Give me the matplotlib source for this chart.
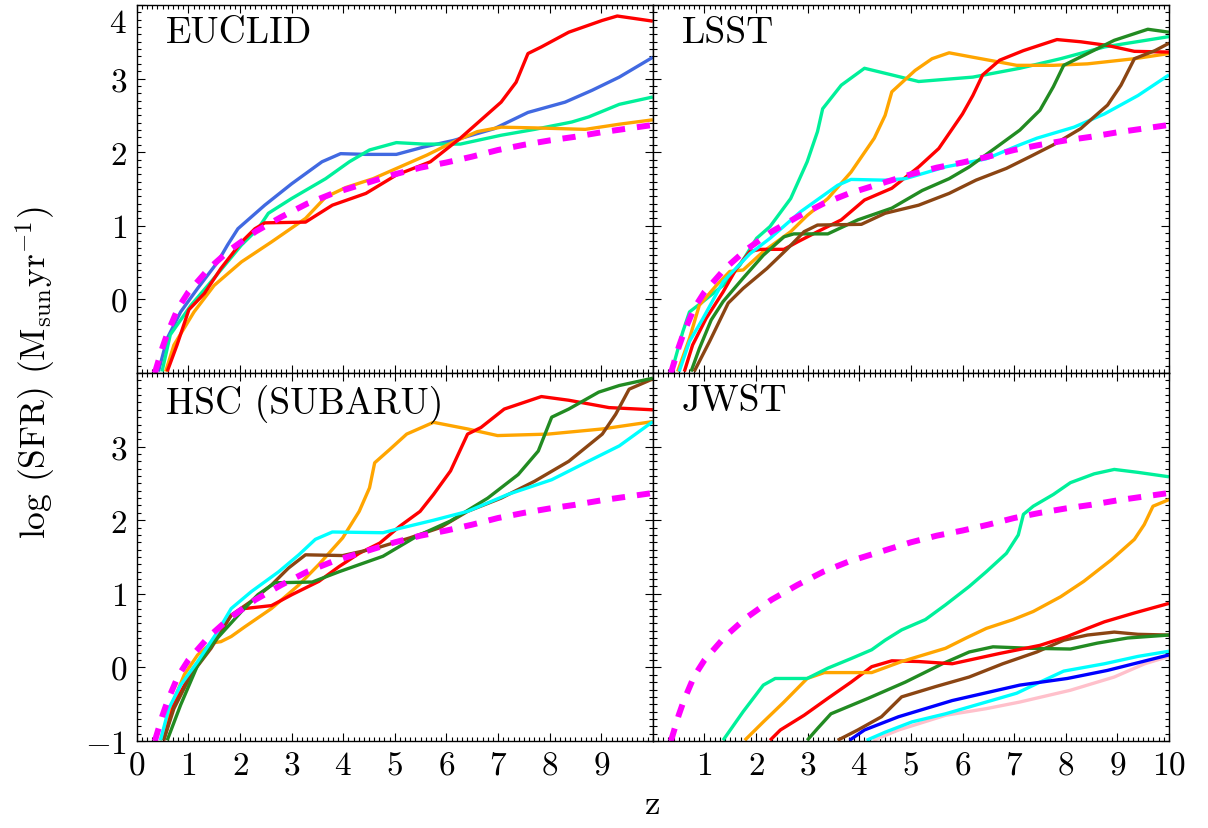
import matplotlib.pyplot as plt
import matplotlib.transforms as mtransforms
import numpy as np
from matplotlib.ticker import MultipleLocator

plt.rcParams['font.family'] = 'cmr10'
plt.rcParams['mathtext.fontset'] = 'cm'
plt.rcParams['axes.formatter.use_mathtext'] = True

# colours used by the surveys
C_ROYAL = '#4169E1'
C_SPRING = '#00F09A'
C_RED = '#FF0000'
C_ORANGE = '#FFA500'
C_FOREST = '#228B22'
C_BROWN = '#8B4513'
C_CYAN = '#00FFFF'
C_BLUE = '#0000FF'
C_PINK = '#FFC0CB'
C_MAG = '#FF00FF'

# model SFR (magenta dashed, same in every panel)
sfr_z = [0.35, 0.5, 0.6, 0.8, 1.0, 1.4, 1.8, 2.3, 2.8, 3.3, 3.8, 4.4, 5.0,
         5.5, 6.0, 6.5, 7.0, 7.5, 8.0, 8.5, 9.0, 9.5, 10.0]
sfr_val = [-1.0, -0.65, -0.45, -0.12, 0.1, 0.42, 0.67, 0.92, 1.12, 1.30, 1.44,
           1.57, 1.70, 1.79, 1.86, 1.94, 2.03, 2.10, 2.16, 2.21, 2.27, 2.32, 2.37]

# ---- EUCLID ----
eu_royal_z = [0.42, 0.59, 0.85, 1.18, 1.57, 1.76, 1.96, 2.48, 3.0, 3.59, 3.95, 4.44,
              5.03, 5.56, 6.14, 6.93, 7.58, 8.30, 8.82, 9.35, 10.0]
eu_royal = [-0.98, -0.53, -0.17, 0.15, 0.51, 0.74, 0.96, 1.28, 1.57, 1.87, 1.98, 1.97,
            1.97, 2.07, 2.16, 2.32, 2.54, 2.68, 2.84, 3.02, 3.29]
eu_spring_z = [0.49, 0.65, 1.05, 1.5, 2.03, 2.35, 2.55, 3.0, 3.66, 4.12, 4.51, 5.03,
               5.56, 6.27, 7.06, 7.71, 8.43, 8.76, 9.35, 10.0]
eu_spring = [-0.98, -0.48, -0.08, 0.29, 0.74, 0.96, 1.17, 1.37, 1.64, 1.87, 2.03, 2.13,
             2.11, 2.11, 2.23, 2.31, 2.41, 2.48, 2.65, 2.75]
eu_orange_z = [0.56, 0.72, 1.11, 1.5, 2.03, 2.61, 3.27, 3.66, 4.05, 4.58, 5.10, 5.62,
               6.14, 6.60, 7.06, 7.71, 8.69, 9.35, 10.0]
eu_orange = [-0.98, -0.62, -0.17, 0.19, 0.51, 0.78, 1.10, 1.39, 1.52, 1.64, 1.80, 1.96,
             2.14, 2.28, 2.34, 2.33, 2.31, 2.38, 2.44]
eu_red_z = [0.59, 0.78, 1.01, 1.31, 1.63, 2.03, 2.29, 2.48, 3.27, 3.79, 4.44, 5.03,
            5.69, 6.27, 7.06, 7.35, 7.58, 7.84, 8.37, 9.02, 9.31, 10.0]
eu_red = [-0.98, -0.62, -0.14, 0.08, 0.42, 0.78, 0.96, 1.04, 1.05, 1.28, 1.44, 1.69,
          1.87, 2.19, 2.68, 2.95, 3.34, 3.43, 3.63, 3.79, 3.85, 3.78]

# ---- LSST ----
ls_spring_z = [0.38, 0.58, 0.71, 0.97, 1.36, 1.69, 2.01, 2.27, 2.67, 2.99, 3.19, 3.29,
               3.65, 4.10, 4.63, 5.15, 6.20, 7.11, 7.90, 8.75, 10.0]
ls_spring = [-0.94, -0.44, -0.17, -0.03, 0.19, 0.47, 0.83, 0.99, 1.37, 1.87, 2.28, 2.59,
             2.91, 3.14, 3.05, 2.96, 3.02, 3.14, 3.27, 3.43, 3.57]
ls_orange_z = [0.48, 0.71, 0.90, 1.23, 1.49, 1.75, 2.14, 2.67, 2.99, 3.39, 3.84, 4.29,
               4.50, 4.63, 5.08, 5.41, 5.74, 6.20, 6.59, 7.05, 7.76, 8.42, 9.33, 10.0]
ls_orange = [-0.98, -0.53, -0.08, 0.19, 0.38, 0.40, 0.65, 0.92, 1.14, 1.37, 1.73, 2.19,
             2.50, 2.82, 3.11, 3.27, 3.35, 3.29, 3.24, 3.18, 3.18, 3.20, 3.27, 3.34]
ls_red_z = [0.61, 0.77, 1.03, 1.36, 1.62, 1.88, 2.08, 2.54, 2.80, 3.19, 3.65, 4.10,
            4.63, 5.15, 5.54, 6.0, 6.20, 6.39, 6.72, 7.18, 7.83, 8.29, 8.81, 9.33, 10.0]
ls_red = [-0.98, -0.62, -0.26, 0.10, 0.42, 0.65, 0.68, 0.68, 0.78, 0.92, 1.08, 1.35,
          1.51, 1.80, 2.05, 2.52, 2.77, 3.05, 3.25, 3.38, 3.53, 3.50, 3.45, 3.37, 3.36]
ls_cyan_z = [0.51, 0.71, 0.97, 1.36, 1.88, 2.27, 2.86, 3.32, 3.58, 3.84, 4.50, 4.89,
             5.67, 6.46, 7.11, 7.44, 8.16, 8.75, 9.40, 10.0]
ls_cyan = [-0.98, -0.57, -0.26, 0.24, 0.62, 0.83, 1.19, 1.42, 1.55, 1.63, 1.62, 1.64,
           1.80, 1.91, 2.10, 2.19, 2.34, 2.52, 2.77, 3.05]
ls_forest_z = [0.74, 0.90, 1.13, 1.36, 1.75, 2.14, 2.54, 2.73, 3.39, 3.97, 4.63, 5.22,
               5.74, 6.13, 6.72, 7.11, 7.50, 7.76, 7.96, 8.42, 8.94, 9.59, 10.0]
ls_forest = [-0.98, -0.67, -0.28, -0.03, 0.29, 0.60, 0.85, 0.89, 0.89, 1.08, 1.24, 1.48,
             1.64, 1.80, 2.10, 2.30, 2.57, 2.89, 3.18, 3.34, 3.52, 3.67, 3.63]
ls_brown_z = [0.80, 1.10, 1.46, 1.75, 2.21, 2.61, 2.93, 3.19, 4.04, 4.50, 5.15, 5.74,
              6.26, 6.85, 7.31, 7.76, 8.29, 8.81, 9.07, 9.33, 9.73, 10.0]
ls_brown = [-0.98, -0.57, -0.05, 0.15, 0.42, 0.69, 0.92, 1.01, 1.02, 1.17, 1.28, 1.44,
            1.62, 1.78, 1.94, 2.10, 2.32, 2.64, 2.91, 3.27, 3.38, 3.48]

# ---- HSC (SUBARU) ----
hs_orange_z = [0.46, 0.65, 0.92, 1.18, 1.44, 1.63, 1.83, 2.09, 2.61, 3.14, 3.53, 3.99,
               4.31, 4.51, 4.61, 4.90, 5.23, 5.75, 6.41, 6.99, 7.97, 9.02, 10.0]
hs_orange = [-0.99, -0.56, -0.10, 0.17, 0.33, 0.35, 0.42, 0.55, 0.80, 1.12, 1.40, 1.76,
             2.12, 2.44, 2.78, 2.96, 3.17, 3.33, 3.24, 3.15, 3.17, 3.24, 3.34]
hs_cyan_z = [0.46, 0.62, 0.85, 1.18, 1.57, 1.83, 2.22, 2.75, 3.14, 3.46, 3.79, 4.77,
             5.10, 5.75, 6.41, 7.19, 8.04, 8.69, 9.35, 10.0]
hs_cyan = [-0.99, -0.56, -0.24, 0.08, 0.49, 0.80, 1.03, 1.30, 1.53, 1.74, 1.84, 1.83,
           1.89, 2.0, 2.12, 2.35, 2.55, 2.78, 3.01, 3.34]
hs_red_z = [0.52, 0.72, 0.98, 1.37, 1.83, 2.09, 2.61, 3.01, 3.53, 3.92, 4.31, 4.71,
            5.10, 5.49, 5.75, 6.08, 6.41, 6.67, 7.12, 7.84, 8.37, 9.15, 10.0]
hs_red = [-0.99, -0.51, -0.17, 0.26, 0.71, 0.80, 0.84, 0.99, 1.17, 1.37, 1.55, 1.69,
          1.92, 2.12, 2.35, 2.67, 3.17, 3.26, 3.51, 3.68, 3.63, 3.53, 3.50]
hs_brown_z = [0.52, 0.72, 1.05, 1.44, 1.83, 2.22, 2.61, 2.94, 3.27, 3.99, 4.64, 5.29,
              5.88, 6.41, 7.06, 7.71, 8.37, 9.02, 9.28, 9.54, 10.0]
hs_brown = [-0.99, -0.56, -0.10, 0.26, 0.71, 0.90, 1.12, 1.35, 1.53, 1.52, 1.62, 1.76,
            1.90, 2.12, 2.30, 2.53, 2.80, 3.17, 3.44, 3.78, 3.92]
hs_forest_z = [0.59, 0.85, 1.18, 1.50, 2.03, 2.35, 2.68, 3.40, 3.92, 4.77, 5.42, 6.08,
               6.80, 7.39, 7.78, 8.04, 8.37, 8.95, 9.35, 10.0]
hs_forest = [-0.99, -0.51, 0.03, 0.35, 0.76, 0.99, 1.15, 1.16, 1.30, 1.51, 1.78, 1.99,
             2.30, 2.62, 2.94, 3.40, 3.51, 3.74, 3.83, 3.93]

# ---- JWST ----
jw_spring_z = [1.36, 1.75, 2.14, 2.37, 2.99, 3.39, 3.84, 4.24, 4.50, 4.82, 5.28, 5.67,
               6.13, 6.46, 6.85, 7.08, 7.18, 7.37, 7.76, 8.09, 8.55, 8.94, 9.40, 10.0]
jw_spring = [-0.99, -0.60, -0.24, -0.15, -0.15, -0.01, 0.12, 0.24, 0.37, 0.51, 0.65,
             0.85, 1.10, 1.30, 1.55, 1.80, 2.08, 2.19, 2.35, 2.51, 2.63, 2.69, 2.65, 2.59]
jw_orange_z = [1.78, 2.14, 2.54, 2.99, 3.32, 4.24, 4.82, 5.67, 6.07, 6.46, 6.98, 7.37,
               7.90, 8.35, 8.88, 9.33, 9.52, 9.69, 10.0]
jw_orange = [-0.99, -0.74, -0.47, -0.15, -0.07, -0.07, 0.08, 0.26, 0.40, 0.53, 0.65,
             0.76, 0.96, 1.17, 1.46, 1.74, 1.94, 2.19, 2.28]
jw_red_z = [2.27, 2.47, 2.93, 3.39, 3.84, 4.24, 4.63, 5.15, 5.80, 6.13, 6.72, 7.50,
            8.03, 8.42, 8.75, 9.33, 10.0]
jw_red = [-0.99, -0.85, -0.65, -0.42, -0.20, 0.01, 0.09, 0.08, 0.05, 0.10, 0.19, 0.30,
          0.42, 0.53, 0.62, 0.74, 0.87]
jw_forest_z = [2.99, 3.19, 3.45, 4.17, 4.89, 5.61, 6.13, 6.59, 7.31, 8.09, 8.61, 9.20, 10.0]
jw_forest = [-0.99, -0.83, -0.63, -0.42, -0.20, 0.05, 0.21, 0.28, 0.26, 0.25, 0.33,
             0.40, 0.44]
jw_brown_z = [3.58, 3.97, 4.43, 4.82, 5.48, 6.13, 6.78, 7.44, 7.96, 8.42, 8.94, 9.40, 10.0]
jw_brown = [-0.99, -0.85, -0.67, -0.40, -0.26, -0.13, 0.05, 0.21, 0.37, 0.44, 0.48,
            0.45, 0.44]
jw_blue_z = [3.81, 4.10, 4.76, 5.80, 7.11, 8.03, 8.81, 10.0]
jw_blue = [-0.99, -0.85, -0.67, -0.45, -0.24, -0.15, -0.04, 0.17]
jw_cyan_z = [4.14, 4.50, 5.02, 5.67, 6.46, 7.05, 7.50, 7.96, 8.75, 9.40, 10.0]
jw_cyan = [-0.99, -0.88, -0.74, -0.63, -0.47, -0.35, -0.20, -0.05, 0.05, 0.15, 0.22]
jw_pink_z = [4.27, 4.76, 5.67, 6.46, 7.11, 8.09, 8.94, 9.53, 10.0]
jw_pink = [-0.99, -0.85, -0.65, -0.56, -0.47, -0.31, -0.13, 0.05, 0.15]

panels = [
    ('EUCLID', [(eu_royal_z, eu_royal, C_ROYAL), (eu_spring_z, eu_spring, C_SPRING),
                (eu_orange_z, eu_orange, C_ORANGE), (eu_red_z, eu_red, C_RED)]),
    ('LSST', [(ls_spring_z, ls_spring, C_SPRING), (ls_orange_z, ls_orange, C_ORANGE),
              (ls_red_z, ls_red, C_RED), (ls_cyan_z, ls_cyan, C_CYAN),
              (ls_forest_z, ls_forest, C_FOREST), (ls_brown_z, ls_brown, C_BROWN)]),
    ('HSC (SUBARU)', [(hs_orange_z, hs_orange, C_ORANGE), (hs_red_z, hs_red, C_RED),
                      (hs_brown_z, hs_brown, C_BROWN), (hs_forest_z, hs_forest, C_FOREST),
                      (hs_cyan_z, hs_cyan, C_CYAN)]),
    ('JWST', [(jw_pink_z, jw_pink, C_PINK), (jw_cyan_z, jw_cyan, C_CYAN),
              (jw_blue_z, jw_blue, C_BLUE), (jw_brown_z, jw_brown, C_BROWN),
              (jw_forest_z, jw_forest, C_FOREST), (jw_red_z, jw_red, C_RED),
              (jw_orange_z, jw_orange, C_ORANGE), (jw_spring_z, jw_spring, C_SPRING)]),
]

fig = plt.figure(figsize=(12.08, 8.29), dpi=100)
gs = fig.add_gridspec(2, 2, left=0.1132, right=0.9677, top=0.9928, bottom=0.1049,
                      hspace=0, wspace=0)

for i, (name, lines) in enumerate(panels):
    row, col = divmod(i, 2)
    ax = fig.add_subplot(gs[row, col])
    for z, v, c in lines:
        ax.plot(z, v, color=c, lw=2.4, solid_capstyle='butt')
    ax.plot(sfr_z, sfr_val, color=C_MAG, lw=4.3, linestyle=(0, (2.2, 2.0)),
            dash_capstyle='butt')
    ax.set_xlim(0, 10)
    ax.set_ylim(-1, 4)
    ax.xaxis.set_major_locator(MultipleLocator(1))
    ax.xaxis.set_minor_locator(MultipleLocator(0.1))
    ax.yaxis.set_major_locator(MultipleLocator(1))
    ax.yaxis.set_minor_locator(MultipleLocator(0.1))
    ax.tick_params(which='both', direction='in', top=True, right=True, width=0.8,
                   labelsize=24, pad=7)
    ax.tick_params(which='major', length=6)
    ax.tick_params(which='minor', length=3.2)
    for s in ax.spines.values():
        s.set_linewidth(1.0)

    if col == 0:
        yt = [0, 1, 2, 3, 4] if row == 0 else [-1, 0, 1, 2, 3]
        ax.set_yticks(yt)
        ax.set_yticklabels(['$%d$' % t for t in yt])
        if row == 0:
            # top label sits a bit lower so it stays inside the figure
            lab = ax.get_yticklabels()[-1]
            lab.set_transform(lab.get_transform() +
                              mtransforms.ScaledTranslation(0, -0.16, fig.dpi_scale_trans))
    else:
        ax.set_yticklabels([])
    if row == 1:
        xt = list(range(0, 10)) if col == 0 else list(range(1, 11))
        ax.set_xticks(xt)
        ax.set_xticklabels(['$%d$' % t for t in xt])
    else:
        ax.set_xticklabels([])

    ax.annotate(name, xy=(0, 1), xycoords='axes fraction', xytext=(21, -8),
                textcoords='offset points', ha='left', va='top', fontsize=27)

fig.text(0.029, 0.551, r'log (SFR) (M$_{\rm sun}$yr$^{-1}$)', rotation=90,
         ha='center', va='center', fontsize=25.5)
fig.text(0.54, 0.029, 'z', ha='center', va='center', fontsize=25)

plt.savefig('out.png', dpi=100)
